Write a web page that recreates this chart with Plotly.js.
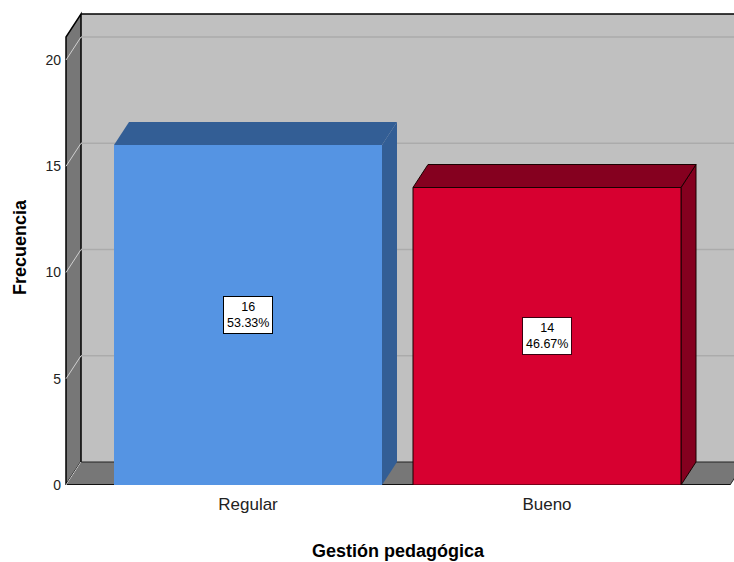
<!DOCTYPE html>
<html>
<head>
<meta charset="utf-8">
<script src="https://cdn.plot.ly/plotly-3.0.1.min.js"></script>
<style>html,body{margin:0;padding:0;background:#fff;}#chart{width:734px;height:562px;}</style>
</head>
<body>
<div id="chart"></div>
<script>
// ---- data ----
const categories = ['Regular', 'Bueno'];
const counts = [16, 14];
const percents = ['53.33%', '46.67%'];
const yTicks = [0, 5, 10, 15, 20];
const xTitle = 'Gestión pedagógica';
const yTitle = 'Frecuencia';

// ---- styles / geometry ----
const frontColors = ['#5594E3', '#D70030'];
const depthColors = ['#335E95', '#85001F'];
const edgeColors = ['rgba(0,0,0,0)', '#1a0000'];
const FONT = 'Liberation Sans, Arial, sans-serif';

const pxPerX = 299, pxPerY = 21.25;
const marginL = 62, marginT = 10, marginB = 77, W = 734, H = 562;
const zeroPx = H - marginB;              // pixel row of value 0 (front)
const catPx = 248;                        // pixel column of category 0
const xmin = (marginL - catPx) / pxPerX;
const xmax = xmin + (W - marginL) / pxPerX;
const ymaxPlot = (zeroPx - marginT) / pxPerY;
const dx = 15 / pxPerX, dy = 23 / pxPerY;  // depth offset in data units
const xw = (66 - catPx) / pxPerX;          // front-left wall edge
const xFloorR = (730 - catPx) / pxPerX;    // front-right end of floor
const wallTop = (zeroPx - 14) / pxPerY;    // top of back wall
const barW = 268 / pxPerX;

const idx = categories.map((_, i) => i);
const shapes = [];
// back wall
shapes.push({type:'rect', xref:'x', yref:'y', x0:xw+dx, x1:xmax+0.5, y0:dy, y1:wallTop,
  fillcolor:'#C0C0C0', line:{width:0}, layer:'below'});
shapes.push({type:'line', xref:'x', yref:'y', x0:xw+dx, x1:xmax+0.5, y0:wallTop, y1:wallTop,
  line:{color:'#000', width:1.5}, layer:'below'});
// left wall
shapes.push({type:'path', xref:'x', yref:'y',
  path:`M ${xw},0 L ${xw+dx},${dy} L ${xw+dx},${wallTop} L ${xw},${wallTop-dy} Z`,
  fillcolor:'#777777', line:{color:'#000', width:1.5}, layer:'below'});
// floor
shapes.push({type:'path', xref:'x', yref:'y',
  path:`M ${xw},0 L ${xFloorR},0 L ${xFloorR+dx},${dy} L ${xw+dx},${dy} Z`,
  fillcolor:'#777777', line:{color:'#222', width:1}, layer:'below'});
shapes.push({type:'line', xref:'x', yref:'y', x0:xw, x1:xFloorR, y0:0, y1:0,
  line:{color:'#111', width:2}, layer:'below'});
// grid lines (back wall + left wall diagonals)
yTicks.forEach(v => {
  if (v > 0) {
    shapes.push({type:'line', xref:'x', yref:'y', x0:xw+dx, x1:xmax+0.5, y0:v+dy, y1:v+dy,
      line:{color:'#ABABAB', width:1.5}, layer:'below'});
  }
  shapes.push({type:'line', xref:'x', yref:'y', x0:xw, x1:xw+dx, y0:v, y1:v+dy,
    line:{color:'#D0D0D0', width:1}, layer:'below'});
});
// bar depth faces
counts.forEach((v, i) => {
  const xl = idx[i] - barW/2, xr = idx[i] + barW/2;
  const ln = {color: edgeColors[i], width: i === 0 ? 0 : 1};
  shapes.push({type:'path', xref:'x', yref:'y',
    path:`M ${xr},0 L ${xr+dx},${dy} L ${xr+dx},${v+dy} L ${xr},${v} Z`,
    fillcolor:depthColors[i], line:ln, layer:'below'});
  shapes.push({type:'path', xref:'x', yref:'y',
    path:`M ${xl},${v} L ${xl+dx},${v+dy} L ${xr+dx},${v+dy} L ${xr},${v} Z`,
    fillcolor:depthColors[i], line:ln, layer:'below'});
});

const trace = {
  type:'bar', x: idx, y: counts, width: barW,
  marker:{color: frontColors, line:{color: edgeColors, width:[0, 1]}},
  hoverinfo:'none'
};

const annotations = counts.map((v, i) => ({
  x: idx[i], y: v/2, xref:'x', yref:'y',
  text: `${v}<br>${percents[i]}`, showarrow:false,
  bgcolor:'#FFFFFF', bordercolor: i === 0 ? '#000' : '#3a0010', borderwidth:1, borderpad:3,
  font:{family:FONT, size:12.5, color:'#000'}
}));

const layout = {
  width: W, height: H,
  margin:{l: marginL, r: 0, t: marginT, b: marginB, pad: 0},
  paper_bgcolor:'#FFFFFF', plot_bgcolor:'#FFFFFF',
  showlegend:false,
  font:{family:FONT, color:'#222'},
  xaxis:{range:[xmin, xmax], tickvals: idx, ticktext: categories,
    showgrid:false, zeroline:false, showline:false, fixedrange:true,
    ticks:'outside', ticklen:4, tickcolor:'rgba(0,0,0,0)',
    tickfont:{family:FONT, size:17, color:'#222'},
    title:{text:`<b>${xTitle}</b>`, font:{family:FONT, size:18, color:'#000'}, standoff:30}},
  yaxis:{range:[0, ymaxPlot], tickvals: yTicks,
    showgrid:false, zeroline:false, showline:false, fixedrange:true,
    ticks:'', ticklen:0,
    tickfont:{family:FONT, size:14, color:'#222'},
    title:{text:`<b>${yTitle}</b>`, font:{family:FONT, size:18, color:'#000'}, standoff:14}},
  shapes: shapes,
  annotations: annotations
};

Plotly.newPlot('chart', [trace], layout, {displayModeBar:false, staticPlot:true});
</script>
</body>
</html>
